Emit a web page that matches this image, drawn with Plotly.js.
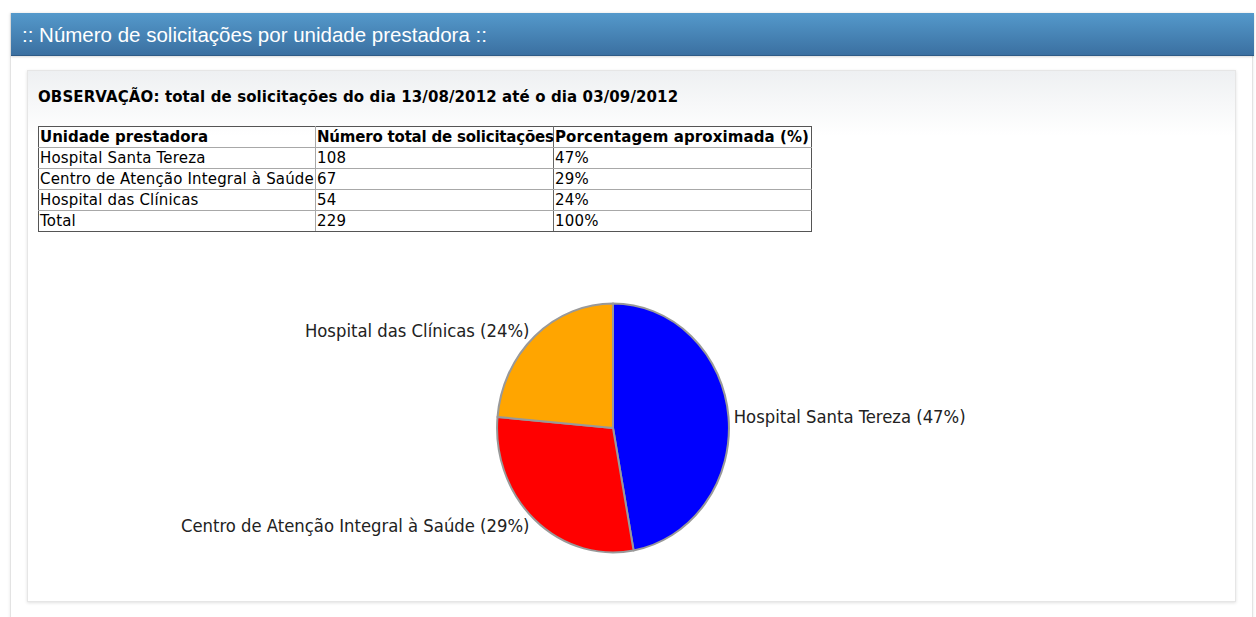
<!DOCTYPE html>
<html><head><meta charset="utf-8">
<script src="https://cdn.plot.ly/plotly-3.0.1.min.js"></script>
<style>
html,body{margin:0;padding:0;background:#fff;width:1256px;height:617px;overflow:hidden;}
#panel{position:absolute;left:10px;top:13px;width:1243px;height:640px;border-left:1px solid #e3e3e3;border-right:1px solid #e3e3e3;box-shadow:0 0 3px rgba(0,0,0,0.10);background:#fff;box-sizing:border-box;}
#hdr{position:absolute;left:0;top:0;width:1243px;height:43px;background:linear-gradient(#5499cb,#3b70a1);border-bottom:1px solid #2f5b86;color:#fff;font:20.5px "Liberation Sans",Arial,sans-serif;line-height:44px;padding-left:11px;box-sizing:border-box;box-shadow:0 1px 2px rgba(0,0,0,0.15);}
#box{position:absolute;left:27px;top:70px;width:1209px;height:532px;box-sizing:border-box;border:1px solid #e6e6e6;box-shadow:0 1px 3px rgba(0,0,0,0.12);background:linear-gradient(#eef0f2 0px,#fff 65px);}
#obs{position:absolute;left:38px;top:87px;font:bold 15px "DejaVu Sans",Verdana,sans-serif;letter-spacing:0.11px;color:#000;line-height:20px;white-space:nowrap;}
#tbl{position:absolute;left:38px;top:126px;width:773px;border-collapse:collapse;table-layout:fixed;font:15px "DejaVu Sans",Verdana,sans-serif;color:#000;}
#tbl td,#tbl th{border:1px solid #a8a8a8;padding:0 0 0 1px;height:20px;line-height:20px;white-space:nowrap;overflow:visible;text-align:left;}
#tbl td{letter-spacing:0.17px;}
#tbl th{font-weight:bold;}
#tbl th:nth-child(2){letter-spacing:-0.2px;}
#tbl th:nth-child(3){letter-spacing:0.1px;}
#tbl tr:first-child th{border-top-color:#555;}
#tbl tr:last-child td{border-bottom-color:#555;}
#tbl td:first-child,#tbl th:first-child{border-left-color:#555;}
#tbl td:last-child,#tbl th:last-child{border-right-color:#555;}
#tbl td:nth-child(2),#tbl th:nth-child(2){border-left-color:#666;border-right-color:#666;}
#chart{position:absolute;left:27px;top:240px;width:1209px;height:362px;}
.pielayer path.textline{display:none;}
</style>
</head>
<body>
<div id="panel"><div id="hdr">:: Número de solicitações por unidade prestadora ::</div></div>
<div id="box"></div>
<div id="obs">OBSERVAÇÃO: total de solicitações do dia 13/08/2012 até o dia 03/09/2012</div>
<table id="tbl">
<colgroup><col style="width:277px"><col style="width:238px"><col style="width:258px"></colgroup>
<tbody id="tbody"></tbody>
</table>
<div id="chart"></div>
<script>
const headers = ["Unidade prestadora", "Número total de solicitações", "Porcentagem aproximada (%)"];
const units = ["Hospital Santa Tereza", "Centro de Atenção Integral à Saúde", "Hospital das Clínicas"];
const requests = [108, 67, 54];
const percentLabels = ["47%", "29%", "24%"];
const totalRow = ["Total", "229", "100%"];
const sliceColors = ["#0000ff", "#ff0000", "#ffa500"];

// build table from arrays
const tbody = document.getElementById('tbody');
function addRow(cells, tag) {
  const tr = document.createElement('tr');
  cells.forEach(c => { const el = document.createElement(tag); el.textContent = c; tr.appendChild(el); });
  tbody.appendChild(tr);
}
addRow(headers, 'th');
units.forEach((u, i) => addRow([u, String(requests[i]), percentLabels[i]], 'td'));
addRow(totalRow, 'td');

const trace = {
  type: 'pie',
  labels: units,
  values: requests,
  sort: false,
  direction: 'clockwise',
  rotation: 0,
  marker: {colors: sliceColors, line: {color: '#999999', width: 2}},
  textposition: 'outside',
  texttemplate: '%{label} (%{percent:.0%})',
  outsidetextfont: {family: '"DejaVu Sans Condensed", sans-serif', size: 18.3, color: '#222222'},
  hoverinfo: 'none',
  showlegend: false,
  domain: {x: [0.3888, 0.5806], y: [0.1603, 0.8011]}
};
const layout = {
  width: 1209, height: 362,
  margin: {l: 0, r: 0, t: 0, b: 0},
  paper_bgcolor: 'rgba(0,0,0,0)',
  plot_bgcolor: 'rgba(0,0,0,0)',
  showlegend: false
};
Plotly.newPlot('chart', [trace], layout, {staticPlot: true, displayModeBar: false}).then(gd => {
  const cd0 = gd.calcdata[0][0];
  const s = 1.073;
  gd.querySelectorAll('.pielayer path.surface').forEach(p => {
    p.setAttribute('transform', 'translate(0,' + (cd0.cy * (1 - s)) + ') scale(1,' + s + ')');
    p.style.vectorEffect = 'non-scaling-stroke';
  });
  // move outside labels with the vertical stretch of the pie
  const svgTop = gd.querySelector('.main-svg').getBoundingClientRect().top;
  gd.querySelectorAll('.pielayer g.slicetext').forEach(t => {
    const r = t.getBoundingClientRect();
    const yc = (r.top + r.bottom) / 2 - svgTop;
    const dy = (s - 1) * (yc - cd0.cy);
    const old = t.getAttribute('transform') || '';
    t.setAttribute('transform', 'translate(0,' + dy + ') ' + old);
  });
});
</script>
</body></html>
